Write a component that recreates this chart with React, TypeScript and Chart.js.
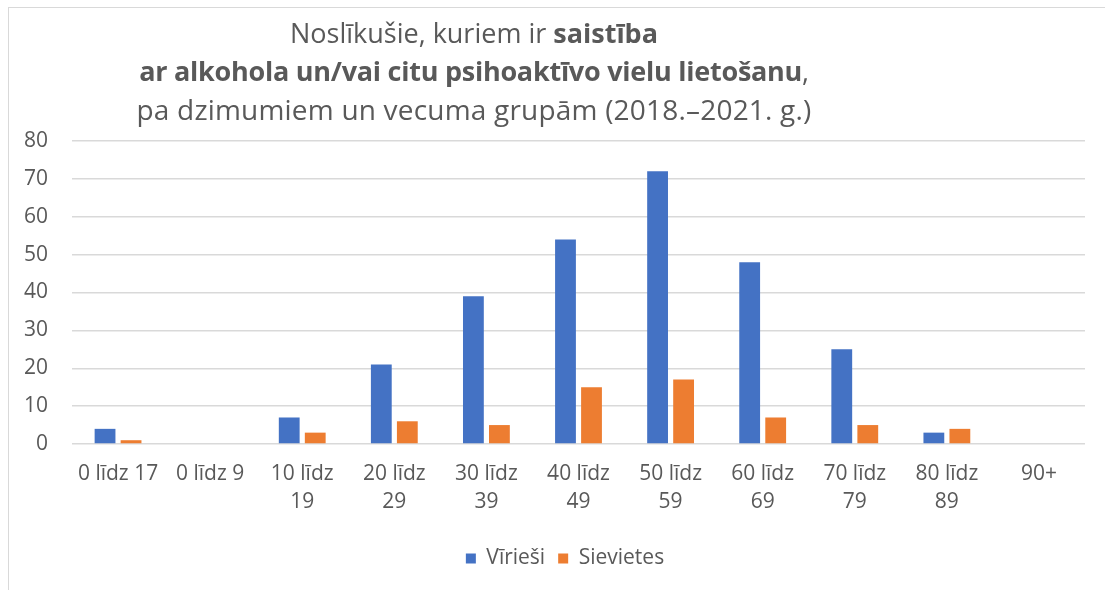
import React, { useEffect, useRef } from "react";
import { Chart, registerables } from "chart.js";

Chart.register(...registerables);

const categories: string[][] = [
  ["0 līdz 17"],
  ["0 līdz 9"],
  ["10 līdz", "19"],
  ["20 līdz", "29"],
  ["30 līdz", "39"],
  ["40 līdz", "49"],
  ["50 līdz", "59"],
  ["60 līdz", "69"],
  ["70 līdz", "79"],
  ["80 līdz", "89"],
  ["90+"],
];
const maleValues = [4, 0, 7, 21, 39, 54, 72, 48, 25, 3, 0];
const femaleValues = [1, 0, 3, 6, 5, 15, 17, 7, 5, 4, 0];
const seriesNames = ["Vīrieši", "Sievietes"];
const yTicks = { min: 0, max: 80, step: 10 };

const FONT = "'Open Sans', 'Noto Sans', sans-serif";
const TEXT = "#595959";

const legendShift = {
  id: "legendShift",
  afterLayout(chart: any) {
    const l = chart.legend;
    if (l) {
      l.left += 18;
      l.right += 18;
    }
  },
};

export default function App() {
  const ref = useRef<HTMLCanvasElement | null>(null);

  useEffect(() => {
    if (!ref.current) return;
    const chart = new Chart(ref.current, {
      type: "bar",
      plugins: [legendShift],
      data: {
        labels: categories,
        datasets: [
          {
            label: seriesNames[0],
            data: maleValues,
            backgroundColor: "#4472C4",
            categoryPercentage: 0.565,
            barPercentage: 0.8,
          },
          {
            label: seriesNames[1],
            data: femaleValues,
            backgroundColor: "#ED7D31",
            categoryPercentage: 0.565,
            barPercentage: 0.8,
          },
        ],
      },
      options: {
        animation: false,
        responsive: false,
        maintainAspectRatio: false,
        layout: { padding: { top: 133, left: 0, right: 36, bottom: 11 } },
        plugins: {
          title: { display: false },
          tooltip: { enabled: false },
          legend: {
            position: "bottom",
            labels: {
              boxWidth: 10,
              boxHeight: 10,
              padding: 13,
              color: TEXT,
              font: { family: FONT, size: 21 },
            },
          },
        },
        scales: {
          x: {
            grid: { display: false, drawTicks: false },
            border: { display: false },
            ticks: {
              color: TEXT,
              font: { family: FONT, size: 21, lineHeight: 1.33 },
              padding: 16,
              autoSkip: false,
              maxRotation: 0,
              minRotation: 0,
            },
            afterFit: (s: any) => {
              s.height = 91;
            },
          },
          y: {
            min: yTicks.min,
            max: yTicks.max,
            grid: { color: "#d9d9d9", lineWidth: 1.5, drawTicks: false },
            border: { display: false },
            ticks: {
              stepSize: yTicks.step,
              color: TEXT,
              font: { family: FONT, size: 21 },
              padding: 24,
            },
            afterFit: (s: any) => {
              s.width = 63;
            },
          },
        },
      },
    });
    return () => chart.destroy();
  }, []);

  return (
    <div
      style={{
        position: "absolute",
        left: 8,
        top: 7,
        width: 1097,
        height: 583,
        boxSizing: "border-box",
        borderLeft: "1px solid #d9d9d9",
        borderTop: "1px solid #d9d9d9",
        overflow: "hidden",
        background: "#fff",
      }}
    >
      <canvas
        ref={ref}
        width={1112}
        height={582}
        style={{ position: "absolute", left: 0, top: 0, width: 1112, height: 582 }}
      />
      <div
        style={{
          position: "absolute",
          left: 65,
          top: 6,
          width: 800,
          textAlign: "center",
          fontFamily: FONT,
          fontSize: 27,
          lineHeight: "38px",
          color: TEXT,
          whiteSpace: "nowrap",
        }}
      >
        <div>
          Noslīkušie, kuriem ir <b>saistība</b>
        </div>
        <div style={{ letterSpacing: "-0.25px" }}>
          <b>ar alkohola un/vai citu psihoaktīvo vielu lietošanu</b>,
        </div>
        <div style={{ fontSize: 28, letterSpacing: "0.2px" }}>
          pa dzimumiem un vecuma grupām (2018.–2021. g.)
        </div>
      </div>
    </div>
  );
}
